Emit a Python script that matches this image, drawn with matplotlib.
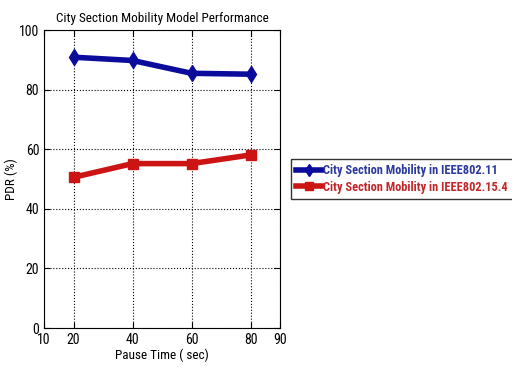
import matplotlib
matplotlib.use("Agg")
import matplotlib.pyplot as plt

pause_time = [20, 40, 60, 80]
pdr_80211 = [90.9, 89.8, 85.5, 85.2]
pdr_802154 = [50.6, 55.2, 55.2, 58.1]
labels = ['City Section Mobility in IEEE802.11', 'City Section Mobility in IEEE802.15.4']

plt.rcParams['font.family'] = ['Roboto Condensed', 'Liberation Sans', 'DejaVu Sans']

fig = plt.figure(figsize=(5.12, 3.67), dpi=100)
ax = fig.add_axes([0.086, 0.106, 0.461, 0.812])

l1, = ax.plot(pause_time, pdr_80211, color='#0c0c9c', linewidth=4, marker='d', markersize=8)
l2, = ax.plot(pause_time, pdr_802154, color='#cc1414', linewidth=4, marker='s', markersize=7)

ax.set_xlim(10, 90)
ax.set_ylim(0, 100)
ax.set_xticks([10, 20, 40, 60, 80, 90])
ax.set_yticks([0, 20, 40, 60, 80, 100])
ax.tick_params(direction='in', labelsize=10, length=4, top=True, right=True)
ax.grid(True, color='black', linestyle=':', linewidth=0.8)

ax.set_title('City Section Mobility Model Performance', fontsize=9.5)
ax.set_xlabel('Pause Time ( sec)', fontsize=9.5, labelpad=1)
ax.set_ylabel('PDR (%)', fontsize=9.5, labelpad=1)

leg = fig.legend([l1, l2], labels, loc='upper left', bbox_to_anchor=(0.568, 0.567),
                 fancybox=False, edgecolor='#333333', framealpha=1,
                 handlelength=2.1, handletextpad=0.05, borderpad=0.45, labelspacing=0.25,
                 borderaxespad=0.0, markerscale=0.8,
                 prop={'weight': 'bold', 'size': 8.9})
leg.get_texts()[0].set_color('#2b3a9c')
leg.get_texts()[1].set_color('#c0282a')

fig.savefig('out.png', dpi=100)
